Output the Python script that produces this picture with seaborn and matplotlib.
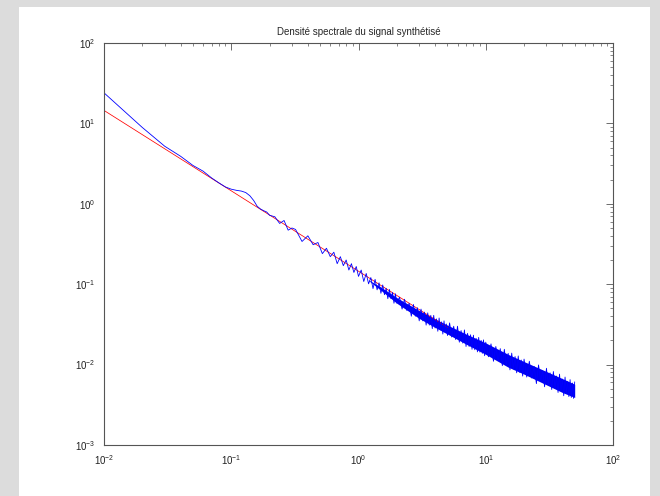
import matplotlib
matplotlib.use("Agg")
import matplotlib.pyplot as plt
import seaborn as sns
from matplotlib.patches import Rectangle


# frequences (Hz)
FREQ = [
    0.01, 0.02, 0.03, 0.04, 0.05, 0.06, 0.07, 0.08, 0.09, 0.10,
    0.11, 0.12, 0.13, 0.14, 0.15, 0.16, 0.17, 0.18, 0.19, 0.20,
    0.22, 0.24, 0.26, 0.28, 0.30,
    0.32, 0.36, 0.40, 0.44, 0.48, 0.52, 0.56, 0.60, 0.64, 0.68,
    0.72, 0.76, 0.80, 0.84, 0.88, 0.92, 0.96, 1.00,
    1.05, 1.10, 1.15, 1.20, 1.25, 1.30, 1.35, 1.40, 1.45, 1.50,
    1.55, 1.60, 1.65, 1.70, 1.75, 1.80, 1.85, 1.90, 1.95, 2.00,
    2.1, 2.2, 2.3, 2.4, 2.5, 2.6, 2.7, 2.8, 2.9, 3.0,
    3.1, 3.2, 3.3, 3.4, 3.5, 3.6, 3.7, 3.8, 3.9, 4.0,
    4.1, 4.2, 4.3, 4.4, 4.5, 4.6, 4.7, 4.8, 4.9, 5.0,
    5.2, 5.4, 5.6, 5.8, 6.0, 6.2, 6.4, 6.6, 6.8, 7.0,
    7.2, 7.4, 7.6, 7.8, 8.0, 8.2, 8.4, 8.6, 8.8, 9.0,
    9.2, 9.4, 9.6, 9.8, 10.0,
    10.5, 11.0, 11.5, 12.0, 12.5, 13.0, 13.5, 14.0, 14.5, 15.0,
    15.5, 16.0, 16.5, 17.0, 17.5, 18.0, 18.5, 19.0, 19.5, 20.0,
    21, 22, 23, 24, 25, 26, 27, 28, 29, 30,
    31, 32, 33, 34, 35, 36, 37, 38, 39, 40,
    41, 42, 43, 44, 45, 46, 47, 48, 49, 50,
]

# densite spectrale du signal (courbe bleue)
PSD = [
    24.0, 8.9, 5.2, 3.9, 3.0, 2.55, 2.1, 1.82, 1.62, 1.52,
    1.47, 1.44, 1.38, 1.26, 1.10, 0.93, 0.86, 0.82, 0.79, 0.72,
    0.69, 0.57, 0.62, 0.47, 0.50,
    0.48, 0.34, 0.40, 0.31, 0.33, 0.24, 0.28, 0.22, 0.25, 0.18,
    0.22, 0.17, 0.20, 0.150, 0.18, 0.14, 0.166, 0.125,
    0.150, 0.108, 0.136, 0.101, 0.121, 0.088, 0.115, 0.085, 0.104, 0.077,
    0.098, 0.074, 0.089, 0.066, 0.086, 0.066, 0.079, 0.058, 0.076, 0.058,
    0.069, 0.049, 0.065, 0.047, 0.058, 0.040, 0.056, 0.040, 0.051, 0.035,
    0.049, 0.035, 0.045, 0.031, 0.044, 0.031, 0.041, 0.028, 0.041, 0.0285,
    0.037, 0.026, 0.038, 0.027, 0.034, 0.024, 0.035, 0.025, 0.032, 0.023,
    0.033, 0.022, 0.030, 0.0205, 0.030, 0.019, 0.0265, 0.0185, 0.027, 0.0168,
    0.0245, 0.0168, 0.0235, 0.0155, 0.0232, 0.0153, 0.0212, 0.0144, 0.0218, 0.0143,
    0.0200, 0.0138, 0.0203, 0.0129, 0.0190,
    0.0125, 0.0181, 0.0110, 0.0168, 0.0112, 0.0158, 0.0097, 0.0155, 0.0098, 0.0138,
    0.0086, 0.0139, 0.0088, 0.0126, 0.0079, 0.0128, 0.0080, 0.0114, 0.0072, 0.0117,
    0.0070, 0.0110, 0.0068, 0.0095, 0.0058, 0.0099, 0.0062, 0.0084, 0.0053, 0.0090,
    0.0056, 0.0079, 0.0049, 0.0082, 0.0051, 0.0072, 0.0045, 0.0076, 0.0047, 0.0066,
    0.0041, 0.0070, 0.0044, 0.0062, 0.0040, 0.0065, 0.0039, 0.0059, 0.0038, 0.0061,
]

# coeur dense du bruit haute frequence (bornes)
BAND_FREQ = [1.2, 1.5, 2.0, 3.0, 4.0, 5.0, 7.0, 10.0, 15.0, 20.0, 30.0, 40.0, 50.0]
BAND_HI = [0.113, 0.092, 0.068, 0.047, 0.037, 0.031, 0.024, 0.0186, 0.0134,
           0.0109, 0.0082, 0.0067, 0.0057]
BAND_LO = [0.111, 0.084, 0.058, 0.0375, 0.029, 0.024, 0.018, 0.0134, 0.0093,
           0.0076, 0.0056, 0.0045, 0.0039]

# droite theorique en 1/f (courbe rouge)
FIT_FREQ = [0.01, 5.0]
FIT_PSD = [14.5, 0.029]

TITLE = "Densité spectrale du signal synthétisé"


sns.set_theme(style="white")
plt.rcParams["font.family"] = ["Liberation Sans", "DejaVu Sans"]
plt.rcParams["mathtext.default"] = "regular"

fig = plt.figure(figsize=(6.6, 4.96), dpi=100, facecolor="#dcdcdc")
# zone blanche de la figure (derriere les axes)
fig.patches.append(Rectangle((19 / 660, 0), 631 / 660, 489 / 496,
                             transform=fig.transFigure, facecolor="white",
                             edgecolor="none", zorder=-10))

ax = fig.add_axes([104 / 660, 51 / 496, 509 / 660, 402 / 496])
ax.set_facecolor("white")

sns.lineplot(x=FIT_FREQ, y=FIT_PSD, ax=ax, color="red", lw=0.55,
             estimator=None, sort=False)
ax.fill_between(BAND_FREQ, BAND_LO, BAND_HI, color="#0000f0", lw=0)
sns.lineplot(x=FREQ, y=PSD, ax=ax, color="blue", lw=0.6,
             estimator=None, sort=False)

ax.set_xscale("log")
ax.set_yscale("log")
ax.set_xlim(1e-2, 1e2)
ax.set_ylim(1e-3, 1e2)

ax.set_title(TITLE, fontsize=7, pad=6)

for side in ax.spines.values():
    side.set_color("#555555")
    side.set_linewidth(0.8)

ax.tick_params(which="both", direction="in", top=True, right=True,
               colors="#555555", labelcolor="#222222", labelsize=7)
ax.tick_params(which="major", length=5, width=0.6)
ax.tick_params(which="minor", length=2.5, width=0.5)
ax.tick_params(axis="x", pad=6)
ax.tick_params(axis="y", pad=6)

fig.savefig("out.png", dpi=100, facecolor=fig.get_facecolor())
